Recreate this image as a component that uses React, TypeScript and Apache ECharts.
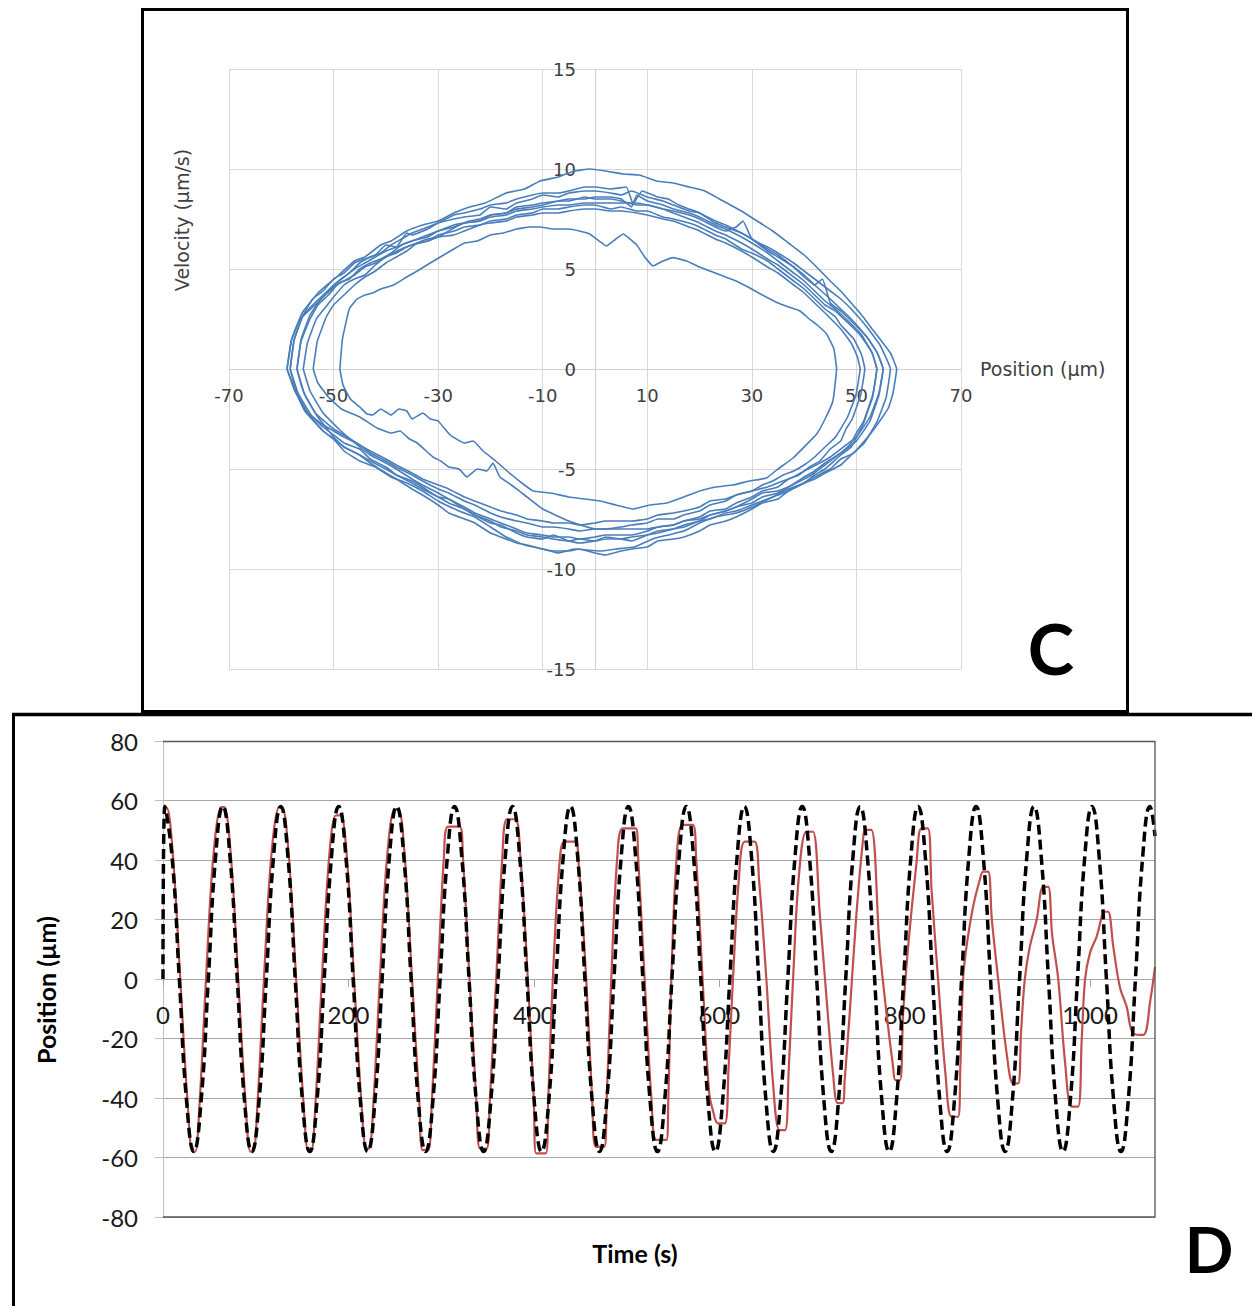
import React, { useEffect, useRef } from 'react';
import * as echarts from 'echarts';

// ---------- Panel C : velocity vs position loops ----------
const cPositionRange = [-70, 70, 20];
const cVelocityRange = [-15, 15, 5];

const loop1 = [[-58.9,0],[-58,1.5],[-56,2.8],[-53,3.8],[-49,4.7],[-46,5.4],[-44,5.6],[-41,6.2],[-39,6.4],[-36,6.9],[-33,7.2],[-30,7.4],[-27,7.8],[-24,8.1],[-21,8.3],[-17,8.8],[-13.5,9.0],[-10.5,9.4],[-7,9.6],[-4,9.9],[-1,10],[2,9.9],[5.4,9.75],[8.5,9.7],[11.8,9.4],[15,9.3],[18,9.1],[21,8.9],[24.5,8.4],[28,7.9],[31,7.4],[34,6.9],[37,6.3],[40,5.7],[42,5.2],[45,4.4],[47,3.9],[49,3.3],[51,2.7],[53,2.0],[54.5,1.5],[56.5,0.8],[57.7,0],[57,-1.2],[56.2,-1.9],[55,-2.4],[52.5,-3.3],[49.5,-4.2],[47,-4.5],[45,-5],[42,-5.4],[40,-5.7],[37,-6.0],[34,-6.4],[30,-6.9],[27,-7.2],[23,-7.4],[20,-7.7],[17,-8.1],[14,-8.3],[11,-8.5],[7.5,-8.9],[4,-9.0],[1,-9.1],[-4,-9],[-7,-9.2],[-10,-9],[-13.5,-8.8],[-17,-8.4],[-20,-7.9],[-23,-7.4],[-26,-7.1],[-30,-6.6],[-33,-6.1],[-36,-5.7],[-39,-5.4],[-42,-4.9],[-45,-4.6],[-48,-4.1],[-50,-3.5],[-52,-3.1],[-55.5,-2.1],[-57.5,-1],[-58.9,0]];
const loop2 = [[-58.3,0],[-57.5,1.5],[-55.8,2.7],[-54,3.5],[-52,3.9],[-50,4.5],[-48,4.8],[-46,5.3],[-44,5.5],[-42,5.7],[-40,6.2],[-38,6.1],[-36,6.8],[-35,6.7],[-32,7.0],[-30,7.3],[-27,7.5],[-25,7.6],[-22,7.7],[-20,8.1],[-17,8.0],[-15,8.3],[-12,8.5],[-10,8.7],[-7,8.6],[-5,8.8],[-2,8.9],[0,8.9],[3,8.8],[5,8.7],[7,8.9],[10,8.6],[13,8.4],[15,8.2],[18,7.9],[20,7.8],[23,7.3],[25,7.1],[28,6.8],[30,6.5],[33,5.9],[35,5.6],[38,5.1],[40,4.6],[42,4.2],[43.5,4.5],[45,3.3],[47,2.9],[49,2.4],[52,1.6],[54,0.8],[55.1,0],[54.3,-1.3],[52.6,-2.6],[50,-3.6],[47,-4.2],[44,-4.7],[42,-5.1],[40,-5.4],[37,-5.9],[35,-6.1],[32,-6.2],[30,-6.5],[27,-6.9],[25,-7.1],[22,-7.3],[20,-7.6],[17,-7.8],[15,-8.0],[12,-8.1],[10,-8.3],[7,-8.6],[5,-8.5],[2,-8.4],[0,-8.6],[-3,-8.7],[-5,-8.6],[-8,-8.3],[-10,-8.5],[-13,-8.4],[-15,-8.2],[-18,-7.8],[-20,-7.7],[-23,-7.3],[-25,-7.0],[-28,-6.5],[-30,-6.4],[-33,-5.9],[-35,-5.6],[-38,-5.3],[-40,-4.9],[-43,-4.5],[-45,-4.0],[-48,-3.7],[-50,-3.3],[-52,-2.9],[-54.3,-2.3],[-56.8,-1.2],[-58.3,0]];
const loop3 = [[-57,0],[-56.2,1.4],[-54.5,2.5],[-53,3.2],[-51,3.7],[-49,4.3],[-47,4.5],[-45,5.0],[-43,5.3],[-41,5.5],[-39,5.8],[-37,6.2],[-35,6.4],[-32,6.7],[-30,6.9],[-27,7.2],[-25,7.3],[-22,7.4],[-20,7.7],[-17,7.8],[-15,8.0],[-12,8.1],[-10,8.2],[-7,8.4],[-5,8.4],[-2,8.6],[0,8.5],[3,8.5],[5,8.4],[8,8.2],[10,8.2],[13,8.0],[15,7.8],[18,7.5],[20,7.3],[23,6.9],[25,6.7],[28,6.3],[30,6.0],[33,5.5],[35,5.2],[38,4.6],[40,4.2],[42,3.7],[44,3.2],[46,2.9],[48,2.4],[50,1.9],[51,1.6],[53,0.8],[53.9,0],[53.1,-1.4],[52.3,-2.0],[51.4,-2.7],[49,-3.9],[47,-4.3],[44,-5.0],[42,-5.3],[40,-5.7],[37,-6.1],[35,-6.5],[32,-6.7],[30,-7.0],[27,-7.4],[25,-7.6],[22,-7.8],[20,-8.1],[17,-8.4],[15,-8.5],[12,-8.6],[10,-8.9],[7,-9.0],[5,-9.1],[2,-9.3],[0,-9.2],[-3,-9.0],[-5,-9.1],[-8,-9.1],[-10,-9.0],[-13,-8.8],[-15,-8.7],[-18,-8.4],[-20,-8.2],[-23,-7.7],[-25,-7.5],[-28,-7.2],[-30,-6.8],[-33,-6.3],[-35,-6.0],[-38,-5.5],[-40,-5.2],[-43,-4.7],[-45,-4.3],[-48,-3.9],[-50,-3.4],[-53,-2.4],[-55.5,-1.3],[-57,0]];
const loop4 = [[-55.8,0],[-55,1.3],[-53.3,2.5],[-51.5,3.1],[-50,3.6],[-48,4.2],[-46,4.5],[-44,4.7],[-42,5.2],[-40,5.6],[-38,5.8],[-36,6.1],[-34,6.3],[-32,6.4],[-30,6.7],[-27,6.9],[-25,7.1],[-22,7.2],[-20,7.4],[-17,7.5],[-15,7.7],[-12,7.8],[-10,8.0],[-7,8.0],[-5,8.1],[-2,8.2],[0,8.2],[3,8.0],[5,8.1],[8,7.9],[10,7.9],[13,7.6],[15,7.5],[18,7.3],[20,7.1],[23,6.7],[25,6.5],[28,6.0],[30,5.8],[33,5.4],[35,5.0],[38,4.4],[40,4.0],[42,3.5],[44,3.0],[46,2.6],[47,2.2],[49.5,1.5],[51,0.7],[51.6,0],[50.8,-1.3],[49.2,-2.5],[48,-3.0],[47,-3.6],[45,-4.0],[43,-4.6],[41,-4.9],[39,-5.3],[37,-5.5],[35,-5.9],[32,-6.1],[30,-6.4],[27,-6.7],[25,-7.0],[22,-7.1],[20,-7.4],[17,-7.6],[15,-7.8],[12,-7.9],[10,-8.1],[7,-8.3],[5,-8.3],[2,-8.3],[0,-8.4],[-3,-8.5],[-5,-8.4],[-8,-8.4],[-10,-8.3],[-13,-8.2],[-15,-8.0],[-18,-7.7],[-20,-7.5],[-23,-7.2],[-25,-6.9],[-28,-6.5],[-30,-6.2],[-33,-5.8],[-35,-5.5],[-38,-5.0],[-40,-4.7],[-43,-4.3],[-45,-3.9],[-49,-3.0],[-52,-2.2],[-54.5,-1.1],[-55.8,0]];
const loop5 = [[-58.9,0],[-58.1,1.4],[-56.4,2.5],[-54,3.1],[-52,3.6],[-50,4.1],[-48,4.4],[-46,4.7],[-44,5.1],[-42,5.3],[-40,5.6],[-37,6.0],[-35,6.2],[-32,6.4],[-30,6.6],[-27,6.7],[-25,6.9],[-22,7.2],[-20,7.3],[-17,7.4],[-15,7.6],[-12,7.7],[-10,7.8],[-7,7.8],[-5,7.9],[-2,8.0],[0,8.0],[3,7.9],[5,7.9],[8,7.8],[10,7.7],[13,7.5],[15,7.4],[18,7.1],[20,6.9],[23,6.5],[25,6.3],[28,5.9],[30,5.6],[33,5.1],[35,4.8],[38,4.2],[40,3.8],[42,3.3],[44,2.8],[47,2.0],[49,1.3],[50.2,0.6],[50.7,0],[49.9,-1.3],[48.3,-2.4],[46,-3.4],[44,-3.9],[42,-4.4],[40,-4.8],[38,-5.1],[36,-5.3],[34,-5.6],[32,-5.8],[30,-6.1],[27,-6.3],[25,-6.6],[22,-6.8],[20,-7.1],[17,-7.3],[15,-7.5],[12,-7.5],[10,-7.7],[7,-7.8],[5,-7.9],[2,-8.0],[0,-8.0],[-3,-8.1],[-5,-8.0],[-8,-7.9],[-10,-7.9],[-13,-7.7],[-15,-7.6],[-18,-7.4],[-20,-7.2],[-23,-6.8],[-25,-6.6],[-28,-6.2],[-30,-6.0],[-33,-5.6],[-35,-5.3],[-38,-4.9],[-40,-4.6],[-43,-4.2],[-45,-3.8],[-48,-3.4],[-50,-3.1],[-52.5,-2.7],[-54.9,-2.2],[-57.4,-1.1],[-58.9,0]];
const loop6 = [[-53.9,0],[-53.1,1.4],[-51.4,2.6],[-50,3.2],[-48,3.7],[-46,4.2],[-44,4.6],[-42,4.9],[-40,5.3],[-38,5.6],[-36,5.9],[-34,6.3],[-32,6.5],[-30,6.6],[-28,6.9],[-26,7.2],[-24,7.4],[-22,7.5],[-20,7.7],[-17,7.8],[-15,8.1],[-12,8.2],[-10,8.3],[-7,8.4],[-5,8.5],[-2,8.5],[0,8.6],[3,8.6],[5,8.5],[7,8.1],[8,8.7],[10,8.4],[13,8.2],[15,8.0],[18,7.8],[20,7.6],[23,7.2],[25,7.0],[28,6.6],[30,6.3],[33,5.8],[35,5.4],[38,4.8],[40,4.4],[42,3.9],[44,3.4],[46,3.0],[48,2.5],[51,1.7],[53,0.8],[53.9,0],[53.1,-1.3],[51.4,-2.6],[50,-3.2],[49,-3.7],[47,-4.2],[44,-4.8],[42,-5.2],[40,-5.5],[37,-5.9],[35,-6.2],[32,-6.4],[30,-6.7],[27,-6.9],[25,-7.1],[22,-7.3],[20,-7.5],[17,-7.6],[15,-7.8],[12,-7.9],[10,-8.0],[5,-8.0],[0,-8.0],[-5,-7.6],[-10,-7.0],[-13,-6.4],[-16,-5.8],[-18.2,-5.4],[-19.5,-4.7],[-20.7,-5.1],[-22.5,-5.0],[-24.5,-5.4],[-26,-5.0],[-28,-4.9],[-29.5,-4.6],[-31,-4.4],[-34,-3.7],[-35.5,-3.5],[-37.3,-3.1],[-39,-3.2],[-41.7,-2.95],[-45,-2.4],[-48.5,-2.0],[-51,-1.4],[-53,-0.7],[-53.9,0]];
const loop7 = [[-57,0],[-56.2,1.5],[-54.5,2.7],[-53,3.3],[-51,3.9],[-49,4.4],[-47,4.8],[-45,5.3],[-43,5.6],[-41,5.8],[-39,6.2],[-37,6.5],[-35,6.8],[-32,7.1],[-30,7.3],[-27,7.7],[-25,7.8],[-22,8.0],[-20,8.2],[-17,8.3],[-15,8.5],[-12,8.7],[-10,8.8],[-7,8.8],[-5,8.9],[-2,9.1],[0,9.1],[3,9.0],[6,9.1],[7.3,8.25],[9,8.9],[12,8.6],[14,8.5],[16,8.2],[18,8.0],[20,7.8],[23,7.4],[25,7.2],[28,6.8],[30,6.5],[33,6.0],[35,5.7],[38,5.1],[40,4.7],[42,4.2],[45,3.5],[47,3.0],[49,2.5],[52,1.6],[54,0.8],[55.1,0],[54.3,-1.2],[52.6,-2.4],[50,-3.4],[48,-3.8],[45,-4.4],[43,-4.7],[40,-5.1],[38,-5.4],[35,-5.7],[33,-5.9],[30,-6.1],[27,-6.3],[25,-6.5],[22,-6.6],[20,-6.9],[17,-7.1],[15,-7.2],[12,-7.3],[10,-7.5],[7,-7.6],[5,-7.6],[2,-7.6],[0,-7.7],[-3,-7.8],[-5,-7.7],[-8,-7.7],[-10,-7.6],[-13,-7.5],[-15,-7.3],[-18,-7.1],[-20,-6.9],[-23,-6.6],[-25,-6.4],[-28,-6.0],[-30,-5.8],[-33,-5.5],[-35,-5.2],[-38,-4.8],[-40,-4.5],[-43,-4.1],[-45,-3.8],[-48,-3.3],[-50,-3.0],[-53.5,-2.2],[-55.8,-1.1],[-57,0]];
const loop8 = [[-58.3,0],[-57.6,1.4],[-56,2.6],[-54,3.2],[-52,3.7],[-50,4.2],[-48,4.6],[-46,5.0],[-44,5.3],[-42,5.6],[-40,5.9],[-37,6.2],[-35,6.4],[-32,6.6],[-30,6.9],[-27,7.1],[-25,7.3],[-22,7.4],[-20,7.6],[-17,7.7],[-15,7.9],[-12,8.0],[-10,8.1],[-7,8.2],[-5,8.2],[-2,8.3],[0,8.3],[3,8.3],[5,8.3],[8,8.3],[10,8.2],[13,8.0],[15,7.9],[18,7.7],[20,7.5],[23,7.1],[25,6.9],[27,7.1],[28.3,7.4],[30,6.5],[33,6.1],[35,5.8],[38,5.3],[40,4.9],[42,4.5],[45,3.9],[47,3.5],[49,3.0],[52,2.1],[54.5,1.2],[56.5,0],[55.7,-1.4],[54,-2.6],[51.5,-3.7],[49,-4.3],[47,-4.8],[44,-5.2],[42,-5.5],[40,-5.7],[37,-6.1],[35,-6.3],[32,-6.6],[30,-6.8],[27,-7.1],[25,-7.2],[22,-7.5],[20,-7.6],[17,-7.9],[15,-8.0],[12,-8.2],[10,-8.3],[7,-8.4],[5,-8.5],[2,-8.5],[0,-8.6],[-3,-8.5],[-5,-8.6],[-8,-8.5],[-10,-8.4],[-13,-8.3],[-15,-8.1],[-18,-7.9],[-20,-7.6],[-23,-7.3],[-25,-7.0],[-28,-6.7],[-30,-6.4],[-33,-6.0],[-35,-5.7],[-38,-5.3],[-40,-5.0],[-43,-4.6],[-45,-4.3],[-48,-3.9],[-50,-3.5],[-52,-3.1],[-55,-2.2],[-57.2,-1.1],[-58.3,0]];
const loop9 = [[-48.8,0],[-48.3,1.5],[-47,3.0],[-45.5,3.5],[-44,3.7],[-42.5,3.8],[-41,4.0],[-38.5,4.2],[-36,4.6],[-34,4.9],[-31.5,5.3],[-29.6,5.6],[-27,6.0],[-25,6.3],[-22.5,6.4],[-20,6.7],[-17.5,6.8],[-15,7.0],[-12.5,7.1],[-10.5,7.1],[-8,7.0],[-5,7.0],[-3,6.9],[-1,6.75],[2.2,6.15],[4,6.5],[5.4,6.75],[8,6.2],[9.5,5.6],[11.1,5.15],[13,5.4],[15,5.57],[17.5,5.4],[20,5.1],[22,4.9],[24,4.7],[27,4.4],[29.6,4.05],[32,3.7],[35,3.3],[37,3.1],[39.2,2.9],[41,2.5],[42.5,2.2],[44.3,1.75],[45.7,1.0],[46.2,0],[45.5,-1.6],[44,-2.5],[42.4,-3.25],[40,-3.9],[37.9,-4.45],[35,-5.0],[32.8,-5.45],[29.5,-5.6],[26.4,-5.8],[23,-5.9],[20,-6.1],[17,-6.4],[13.7,-6.7],[10.5,-6.8],[7.3,-7.0],[4,-6.8],[1,-6.6],[-2,-6.5],[-5,-6.4],[-8.5,-6.2],[-11.8,-6.1],[-14,-5.7],[-16.8,-5.1],[-19,-4.6],[-21.4,-4.1],[-23.3,-3.6],[-25,-3.7],[-27.7,-3.3],[-30,-2.6],[-31.5,-2.5],[-32.9,-2.2],[-35,-2.5],[-36,-2.1],[-37.5,-2.0],[-39,-2.3],[-41,-2.0],[-42.5,-2.3],[-43.6,-2.25],[-45,-1.9],[-46.8,-1.5],[-48.2,-0.8],[-48.8,0]];
const cLoops = [loop1, loop2, loop3, loop4, loop5, loop6, loop7, loop8, loop9];

// ---------- Panel D : position vs time ----------
const dTimeRange = [0, 1070, 200];
const dPositionRange = [-80, 80, 20];

const commandTime = [0,
  2, 9.8, 17.6, 25.4, 33.3, 41.1, 48.9, 56.7,
  64.5, 72.3, 80.1, 87.9, 95.8, 103.6, 111.4, 119.2,
  127, 134.8, 142.6, 150.4, 158.3, 166.1, 173.9, 181.7,
  189.5, 197.3, 205.1, 212.9, 220.8, 228.6, 236.4, 244.2,
  252, 259.8, 267.6, 275.4, 283.3, 291.1, 298.9, 306.7,
  314.5, 322.3, 330.1, 337.9, 345.8, 353.6, 361.4, 369.2,
  377, 384.8, 392.6, 400.4, 408.3, 416.1, 423.9, 431.7,
  439.5, 447.3, 455.1, 462.9, 470.8, 478.6, 486.4, 494.2,
  502, 509.8, 517.6, 525.4, 533.3, 541.1, 548.9, 556.7,
  564.5, 572.3, 580.1, 587.9, 595.8, 603.6, 611.4, 619.2,
  627, 634.8, 642.6, 650.4, 658.3, 666.1, 673.9, 681.7,
  689.5, 697.3, 705.1, 712.9, 720.8, 728.6, 736.4, 744.2,
  752, 759.8, 767.6, 775.4, 783.3, 791.1, 798.9, 806.7,
  814.5, 822.3, 830.1, 837.9, 845.8, 853.6, 861.4, 869.2,
  877, 884.8, 892.6, 900.4, 908.3, 916.1, 923.9, 931.7,
  939.5, 947.3, 955.1, 962.9, 970.8, 978.6, 986.4, 994.2,
  1002, 1009.8, 1017.6, 1025.4, 1033.3, 1041.1, 1048.9, 1056.7,
  1064.5, 1070];
const commandPosition = [0,
  58, 41, 0, -41, -58, -41, 0, 41,
  58, 41, 0, -41, -58, -41, 0, 41,
  58, 41, 0, -41, -58, -41, 0, 41,
  58, 41, 0, -41, -58, -41, 0, 41,
  58, 41, 0, -41, -58, -41, 0, 41,
  58, 41, 0, -41, -58, -41, 0, 41,
  58, 41, 0, -41, -58, -41, 0, 41,
  58, 41, 0, -41, -58, -41, 0, 41,
  58, 41, 0, -41, -58, -41, 0, 41,
  58, 41, 0, -41, -58, -41, 0, 41,
  58, 41, 0, -41, -58, -41, 0, 41,
  58, 41, 0, -41, -58, -41, 0, 41,
  58, 41, 0, -41, -58, -41, 0, 41,
  58, 41, 0, -41, -58, -41, 0, 41,
  58, 41, 0, -41, -58, -41, 0, 41,
  58, 41, 0, -41, -58, -41, 0, 41,
  58, 41, 0, -41, -58, -41, 0, 41,
  58, 48];

const response = [
  [1,57],[4,57.5],[10.8,41],[18.6,0],[26.4,-41],[31.8,-58],[34.8,-58],[39.6,-41],[46.4,0],[54.2,41],
  [63,57.8],[66,57.8],[73.3,41],[81.1,0],[88.9,-41],[94.3,-58],[97.3,-58],[102.1,-41],[108.9,0],[116.7,41],
  [125.5,57.8],[128.5,57.8],[135.8,41],[143.6,0],[151.4,-41],[156.8,-58],[159.8,-58],[164.6,-41],[171.4,0],[179.2,41],
  [186.5,55],[191.5,55],[198.3,41],[206.1,0],[213.9,-41],[219.3,-57],[222.3,-57],[227.1,-41],[233.9,0],[241.7,41],
  [250,57],[254,57],[260.8,41],[268.6,0],[276.4,-41],[280,-57.5],[286,-57.5],[290,-41],[296.4,0],[303,41],
  [307.5,51.2],[320,51.2],[323.5,41],[330.6,0],[338,-41],[342,-57],[349,-57],[352.5,-41],[359.4,0],[366,41],
  [371,53.7],[380,53.7],[385.5,41],[393.5,0],[400,-41],[402.5,-58.6],[413,-58.6],[415.5,-41],[420.5,0],[427.5,38],
  [433,46.2],[444.5,46.2],[448.5,38],[456.5,0],[463,-41],[467,-56.4],[476,-56.4],[478.5,-41],[483.5,0],[490,41],
  [496,50.6],[510,50.6],[512.5,41],[519.5,0],[527,-41],[532,-54.1],[543,-54.1],[545,-41],[548.3,0],[554,41],
  [560.5,51.8],[571.4,51.8],[575,41],[582,0],[589,-38],[593,-44],[598.5,-48.5],[606,-48.5],[610,-30],[614.8,0],[621,33],
  [627.5,46.2],[638,46.2],[643,33],[650.8,0],[658,-35],[665,-50.8],[671,-50.8],[675,-30],[679.6,0],[686,35],
  [694,49.5],[701,49.5],[708.4,22],[715.6,-6],[722.7,-31.7],[727.8,-41.7],[733,-41.7],[735.3,-34],[740.7,-11.5],[748,22],[755,46.7],
  [757.5,50.1],[764,50.1],[772.9,10.9],[780.4,-11.5],[787.5,-29.5],[790,-34],[795,-34],[798.3,-11.5],[803.7,10.9],[812.7,38.9],
  [818,50.6],[825,50.6],[829,30],[836,0],[844,-32],[850.5,-46.3],[857.6,-46.3],[860,-30],[863,0],[866.7,10.9],[873.8,24.3],[881,33.3],
  [884.6,36.1],[890,36.1],[894,20],[900.8,0],[910,-25],[917,-35.1],[922.4,-35.1],[925.5,-18],[929.6,0],[935,10.9],[942.3,19.8],
  [949.4,31],[954.8,31],[959,15],[965.6,0],[973,-28],[980,-42.9],[987,-42.9],[991,-20],[994.6,0],[999.8,8.7],[1007,14.2],
  [1016,22.6],[1019.5,22.6],[1025,10.9],[1032,-2.6],[1039.4,-9.3],[1046.5,-18.3],[1057.3,-18.8],[1065,-7],[1070,4.1]
];

const C_FONT = 'DejaVu Sans';
const D_FONT = 'Lato';

// grid boxes (pixels)
const C_GRID = { left: 229, top: 69, width: 732, height: 600 };
const D_GRID = { left: 163, top: 741, width: 992, height: 476 };

function buildOption() {
  const commandData = commandTime.map((t, i) => [t, commandPosition[i]]);
  const loopSeries = cLoops.map((loop) => ({
    type: 'line',
    xAxisIndex: 0,
    yAxisIndex: 0,
    data: loop,
    symbol: 'none',
    smooth: 0.1,
    lineStyle: { color: '#4A7EBB', width: 1.6 },
    silent: true,
  }));
  // offsets that put the C axes through the origin and the D time axis through 0
  const cXOffset = -(C_GRID.height * (0 - cVelocityRange[0]) / (cVelocityRange[1] - cVelocityRange[0]));
  const cYOffset = -(C_GRID.width * (0 - cPositionRange[0]) / (cPositionRange[1] - cPositionRange[0]));
  const dXOffset = -(D_GRID.height * (0 - dPositionRange[0]) / (dPositionRange[1] - dPositionRange[0]));
  return {
    animation: false,
    backgroundColor: '#ffffff',
    grid: [C_GRID, D_GRID],
    xAxis: [
      {
        gridIndex: 0, type: 'value', position: 'bottom', offset: cXOffset,
        min: cPositionRange[0], max: cPositionRange[1], interval: cPositionRange[2],
        axisLine: { onZero: false, lineStyle: { color: '#D0D0D0', width: 1 } },
        axisTick: { show: false },
        axisLabel: { color: '#404040', fontSize: 18, fontFamily: C_FONT, margin: 17 },
        splitLine: { show: true, lineStyle: { color: '#D9D9D9', width: 1 } },
        name: 'Position (µm)', nameLocation: 'end', nameGap: 19,
        nameTextStyle: { color: '#404040', fontSize: 19, fontFamily: C_FONT, verticalAlign: 'middle' },
      },
      {
        gridIndex: 1, type: 'value', position: 'bottom', offset: dXOffset,
        min: dTimeRange[0], max: dTimeRange[1], interval: dTimeRange[2],
        axisLine: { onZero: false, lineStyle: { color: '#A6A6A6', width: 1 } },
        axisTick: { show: true, length: 8, lineStyle: { color: '#A6A6A6' } },
        axisLabel: {
          color: '#1a1a1a', fontSize: 24, fontFamily: D_FONT, margin: 23, showMaxLabel: false,
          formatter: (v: number) => String(v),
        },
        splitLine: { show: false },
      },
    ],
    yAxis: [
      {
        gridIndex: 0, type: 'value', position: 'left', offset: cYOffset,
        min: cVelocityRange[0], max: cVelocityRange[1], interval: cVelocityRange[2],
        axisLine: { onZero: false, lineStyle: { color: '#D0D0D0', width: 1 } },
        axisTick: { show: false },
        axisLabel: { color: '#404040', fontSize: 18, fontFamily: C_FONT, margin: 19 },
        splitLine: { show: true, lineStyle: { color: '#D9D9D9', width: 1 } },
      },
      {
        gridIndex: 1, type: 'value', position: 'left',
        min: dPositionRange[0], max: dPositionRange[1], interval: dPositionRange[2],
        axisLine: { show: true, onZero: false, lineStyle: { color: '#BFBFBF', width: 1 } },
        axisTick: { show: true, length: 8, lineStyle: { color: '#BFBFBF' } },
        axisLabel: { color: '#1a1a1a', fontSize: 24, fontFamily: D_FONT, margin: 25 },
        splitLine: { show: true, lineStyle: { color: '#A6A6A6', width: 1 } },
      },
    ],
    series: [
      ...loopSeries,
      {
        type: 'line', xAxisIndex: 1, yAxisIndex: 1, data: response,
        symbol: 'none', smooth: 0.35,
        lineStyle: { color: '#C0504D', width: 2.2 },
        silent: true, z: 3,
      },
      {
        type: 'line', xAxisIndex: 1, yAxisIndex: 1, data: commandData,
        symbol: 'none', smooth: 0.5,
        lineStyle: { color: '#000000', width: 3.5, type: [10, 5] },
        silent: true, z: 4,
      },
    ],
    graphic: [
      { type: 'rect', silent: true, z: 100, shape: { x: 142.5, y: 9.5, width: 985, height: 702 }, style: { fill: 'none', stroke: '#000', lineWidth: 3 } },
      { type: 'line', silent: true, z: 100, shape: { x1: 12, y1: 714.5, x2: 1252, y2: 714.5 }, style: { stroke: '#000', lineWidth: 3.5 } },
      { type: 'line', silent: true, z: 100, shape: { x1: 13.5, y1: 713, x2: 13.5, y2: 1306 }, style: { stroke: '#000', lineWidth: 3 } },
      { type: 'polyline', silent: true, z: 100, shape: { points: [[163, 741.5], [1155, 741.5], [1155, 1217], [163, 1217]] }, style: { fill: 'none', stroke: '#555', lineWidth: 1.3 } },
      {
        type: 'text', silent: true, z: 100, x: 182, y: 220, rotation: Math.PI / 2,
        style: { text: 'Velocity (µm/s)', fontSize: 19, fontFamily: C_FONT, fill: '#404040', align: 'center', verticalAlign: 'middle', textAlign: 'center', textVerticalAlign: 'middle' },
      },
      {
        type: 'text', silent: true, z: 100, x: 1051, y: 648,
        style: { text: 'C', fontSize: 70, fontWeight: 'bold', fontFamily: D_FONT, fill: '#000', align: 'center', verticalAlign: 'middle', textAlign: 'center', textVerticalAlign: 'middle' },
      },
      {
        type: 'text', silent: true, z: 100, x: 46, y: 990, rotation: Math.PI / 2,
        style: { text: 'Position (µm)', fontSize: 25, fontWeight: 'bold', fontFamily: D_FONT, fill: '#000', align: 'center', verticalAlign: 'middle', textAlign: 'center', textVerticalAlign: 'middle' },
      },
      {
        type: 'text', silent: true, z: 100, x: 635, y: 1253,
        style: { text: 'Time (s)', fontSize: 25, fontWeight: 'bold', fontFamily: D_FONT, fill: '#000', align: 'center', verticalAlign: 'middle', textAlign: 'center', textVerticalAlign: 'middle' },
      },
      {
        type: 'text', silent: true, z: 100, x: 1209, y: 1248,
        style: { text: 'D', fontSize: 64, fontWeight: 'bold', fontFamily: D_FONT, fill: '#000', align: 'center', verticalAlign: 'middle', textAlign: 'center', textVerticalAlign: 'middle' },
      },
    ],
  };
}

export default function App() {
  const ref = useRef<HTMLDivElement>(null);
  useEffect(() => {
    if (!ref.current) return;
    const chart = echarts.init(ref.current, null, { renderer: 'svg' });
    chart.setOption(buildOption() as any);
    return () => chart.dispose();
  }, []);
  return (
    <div
      ref={ref}
      style={{ position: 'absolute', left: 0, top: 0, width: 1252, height: 1306, background: '#fff' }}
    />
  );
}
